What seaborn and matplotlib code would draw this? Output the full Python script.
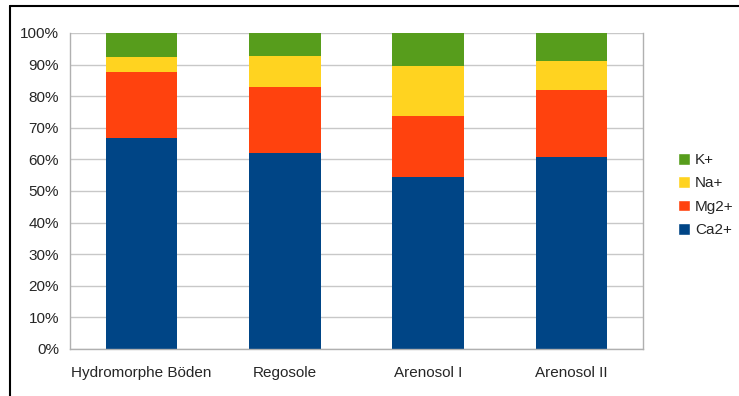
import numpy as np
import pandas as pd
import matplotlib
matplotlib.use("Agg")
import matplotlib.pyplot as plt
import seaborn as sns
from matplotlib.patches import Patch
from matplotlib.ticker import FixedLocator, PercentFormatter

# data (share of cations, %)
categories = ["Hydromorphe Böden", "Regosole", "Arenosol I", "Arenosol II"]
ca = [66.9, 62.1, 54.5, 60.7]
mg = [20.9, 20.7, 19.1, 21.3]
na = [4.6, 9.9, 15.9, 9.2]
k = [7.6, 7.3, 10.5, 8.8]

series = ["Ca2+", "Mg2+", "Na+", "K+"]
colors = {"Ca2+": "#004586", "Mg2+": "#ff420e", "Na+": "#ffd320", "K+": "#579d1c"}

sns.set_style("white")
plt.rcParams["font.family"] = ["Liberation Sans", "DejaVu Sans"]

df = pd.DataFrame({"cat": categories, "Ca2+": ca, "Mg2+": mg, "Na+": na, "K+": k})
# cumulative tops, drawn from highest to lowest so each stack shows
cum = df[series].cumsum(axis=1)

fig = plt.figure(figsize=(7.39, 3.96), dpi=100)
ax = fig.add_axes([70 / 739, 1 - 349 / 396, (643 - 70) / 739, (349 - 33) / 396])

for s in reversed(series):
    sns.barplot(x=df["cat"], y=cum[s], color=colors[s], width=0.5,
                saturation=1, linewidth=0, edgecolor="none", ax=ax, zorder=2)

ax.set_ylim(0, 100)
ax.set_xlim(-0.5, 3.5)
ax.set_yticks(np.arange(0, 101, 10))
ax.yaxis.set_major_formatter(PercentFormatter(decimals=0))
ax.yaxis.grid(True, color="#c8c8c8", linewidth=1, zorder=0)
ax.set_axisbelow(True)
ax.set_xlabel("")
ax.set_ylabel("")

ax.xaxis.set_minor_locator(FixedLocator(np.arange(-0.5, 4, 1)))
ax.tick_params(axis="x", which="major", length=0, pad=12, labelsize=11)
ax.tick_params(axis="x", which="minor", length=7, color="#b0b0b0", width=1)
ax.tick_params(axis="y", length=5, color="#b0b0b0", labelsize=11, pad=3)

for side in ["left", "bottom", "right"]:
    ax.spines[side].set_color("#b0b0b0")
    ax.spines[side].set_linewidth(1)
ax.spines["top"].set_visible(False)

handles = [Patch(facecolor=colors[s], label=s) for s in reversed(series)]
fig.legend(handles=handles, loc="center left", bbox_to_anchor=(672 / 739, 1 - 195 / 396),
           frameon=False, fontsize=11, handlelength=0.8, handleheight=0.8,
           handletextpad=0.3, labelspacing=0.6, borderaxespad=0)

# frame lines of the original screenshot (left and top)
fig.add_artist(plt.Line2D([10 / 739, 10 / 739], [0, 1 - 6 / 396], color="black", linewidth=1.5))
fig.add_artist(plt.Line2D([10 / 739, 1], [1 - 6 / 396, 1 - 6 / 396], color="black", linewidth=1.5))

fig.savefig("out.png", dpi=100)
